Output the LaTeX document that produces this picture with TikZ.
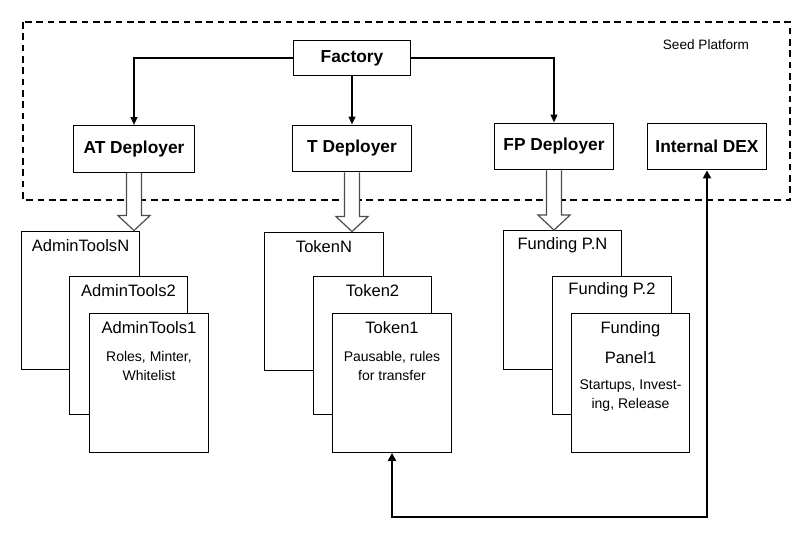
\documentclass[tikz,border=0pt]{standalone}
\usepackage{fontspec}
\setmainfont{Liberation Sans}
\usetikzlibrary{positioning,arrows.meta,calc}

% open block arrow from a deployer down to the top of its stack
\newcommand{\hollowdown}[2]{%
  \draw[hollow] ($(#1.south)+(-7.5,0)$) -- ($(#1.south |- #2.north)+(-7.5,-15)$) -- ++(-8.5,0)
    -- (#1.south |- #2.north) -- ++(16,-15) -- ++(-8.5,0) -- ($(#1.south)+(7.5,0)$);}

\begin{document}
\begin{tikzpicture}[
  x=0.75pt, y=-0.75pt,
  deployer/.style={draw, line width=0.9pt, minimum width=89pt, minimum height=35pt, inner sep=0pt, font=\fontsize{13}{15}\selectfont\bfseries},
  card/.style={draw, line width=0.9pt, fill=white, minimum width=89pt, minimum height=104pt, inner sep=0pt},
  cardtitle/.style={inner sep=0pt, align=center, font=\fontsize{12.4}{15}\selectfont},
  note/.style={inner sep=0pt, align=center, font=\fontsize{10.5}{14}\selectfont},
  flow/.style={-{Triangle[length=6pt,width=5pt]}, line width=1.5pt},
  link/.style={{Triangle[length=6pt,width=6pt]}-{Triangle[length=6pt,width=6pt]}, line width=2pt},
  hollow/.style={draw=black!70, fill=white, line width=0.9pt, line join=miter},
  frame/.style={dash pattern=on 5pt off 3.5pt, line width=1.3pt}
]
\useasboundingbox (0,0) rectangle (808,538);

% seed platform
\draw[frame] (23,22) rectangle (790,200);
\node[inner sep=0pt, font=\fontsize{10.2}{12}\selectfont] (seed) at (706,45) {Seed Platform};

\node[deployer, minimum width=88pt, minimum height=26pt] (fac) at (352,58) {Factory};
\node[deployer, minimum width=91pt] (atd) at (134,149) {AT Deployer};
\node[deployer] (td) at (352,148.5) {T Deployer};
\node[deployer] (fpd) at (554,146.5) {FP Deployer};
\node[deployer] (dex) at (707,146.5) {Internal DEX};

\draw[flow] (fac.west) -| (atd.north);
\draw[flow] (fac) -- (td);
\draw[flow] (fac.east) -| (fpd.north);

% admin tools stack
\node[card] (atN) at (80.5,300.5) {};
\node[cardtitle] (atNt) at ([yshift=-11.25pt]atN.north) {AdminToolsN};
\node[card] (at2) at (128.5,345.5) {};
\node[cardtitle] (at2t) at ([yshift=-11.25pt]at2.north) {AdminTools2};
\node[card] (at1) at (149,383) {};
\node[cardtitle] (at1t) at ([yshift=-11.25pt]at1.north) {AdminTools1};
\node[note] (at1n) at ([yshift=-39.5pt]at1.north) {Roles, Minter,\\Whitelist};

% token stack
\node[card] (tkN) at (324,301.5) {};
\node[cardtitle] (tkNt) at ([yshift=-11.25pt]tkN.north) {TokenN};
\node[card] (tk2) at (372.5,345.5) {};
\node[cardtitle] (tk2t) at ([yshift=-11.25pt]tk2.north) {Token2};
\node[card] (tk1) at (392,383) {};
\node[cardtitle] (tk1t) at ([yshift=-11.25pt]tk1.north) {Token1};
\node[note] (tk1n) at ([yshift=-39.5pt]tk1.north) {Pausable, rules\\for transfer};

% funding panel stack
\node[card] (fpN) at (562.5,300) {};
\node[cardtitle] (fpNt) at ([yshift=-11.25pt]fpN.north) {Funding P.N};
\node[card] (fp2) at (612,345.5) {};
\node[cardtitle] (fp2t) at ([yshift=-11.25pt]fp2.north) {Funding P.2};
\node[card] (fp1) at (630.5,383) {};
\node[cardtitle] (fp1t) at ([yshift=-22.5pt]fp1.north) {Funding\\[7.5pt]Panel1};
\node[note] (fp1n) at ([yshift=-62pt]fp1.north) {Startups, Invest-\\ing, Release};

\hollowdown{atd}{atN}
\hollowdown{td}{tkN}
\hollowdown{fpd}{fpN}

\draw[link] (tk1.south) -- ++(0,64) -| (dex.south);
\end{tikzpicture}
\end{document}
